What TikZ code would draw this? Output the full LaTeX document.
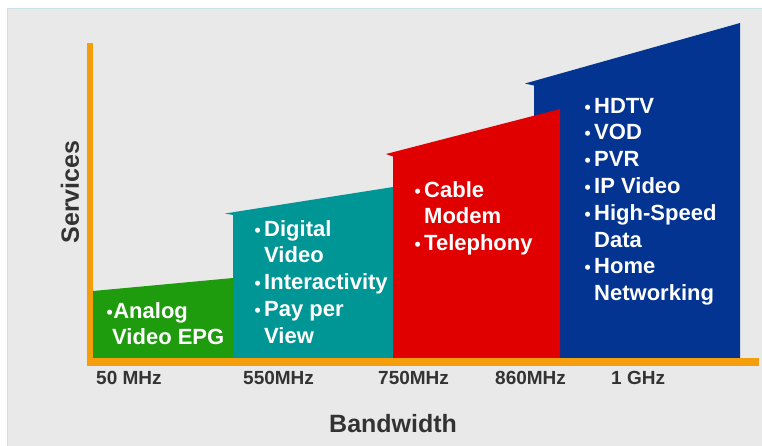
\documentclass[tikz,border=0pt]{standalone}
\usepackage{graphicx}
\usepackage{fontspec}
\setmainfont{Liberation Sans}
\definecolor{bggray}{RGB}{233,233,233}
\definecolor{bgedge}{RGB}{200,226,232}
\definecolor{axisorange}{RGB}{245,158,11}
\definecolor{bandgreen}{RGB}{31,155,14}
\definecolor{bandteal}{RGB}{0,150,150}
\definecolor{bandred}{RGB}{224,0,0}
\definecolor{bandblue}{RGB}{3,52,145}
\definecolor{labelgray}{RGB}{51,51,51}
% small bullet dot, bullet set in a fixed-width box, and the matching indent
\newcommand{\bdot}{\scalebox{0.8}{•}}
\newcommand{\bul}{\makebox[10pt][l]{\hspace*{0.5pt}\bdot}}
\newcommand{\ind}{\hspace*{10pt}}
\begin{document}
\begin{tikzpicture}[x=1pt,y=-1pt,
  svc/.style={text=white, font=\bfseries\fontsize{22}{26.8}\selectfont,
    align=left, anchor=base west, inner sep=0pt},
  ticklabel/.style={text=labelgray, font=\bfseries\fontsize{19}{22}\selectfont,
    anchor=base west, inner sep=0pt},
  axtitle/.style={text=labelgray, font=\bfseries\fontsize{25}{30}\selectfont,
    inner sep=0pt}]
\useasboundingbox (0,0) rectangle (762,445);
\fill[white] (0,0) rectangle (762,445);
\filldraw[fill=bggray, draw=bgedge, line width=0.8pt] (7,8) rectangle (765,448);

% service bands, from the widest (back) to the narrowest (front)
\fill[bandblue] (525,83.5) -- (740,23) -- (740,358) -- (534,358) -- (534,85.5) -- cycle;
\fill[bandred]  (386,154) -- (560,109) -- (560,358) -- (393,358) -- (393,156.5) -- cycle;
\fill[bandteal] (225,213.5) -- (393,187) -- (393,358) -- (233,358) -- (233,215) -- cycle;
\fill[bandgreen] (93,291) -- (233,278) -- (233,358) -- (93,358) -- cycle;

% axes
\fill[axisorange] (87,43) rectangle (93,366);
\fill[axisorange] (87,358) rectangle (759,366);

% band contents (each node is anchored on the baseline of its last line)
\node[svc] (analog) at (106,344.8) {\hspace*{0.5pt}\bdot\hspace*{0.5pt}Analog\\\hspace*{6pt}Video EPG};
\node[svc] (digital) at (254,343.2) {\bul Digital\\\ind Video\\\bul Interactivity\\\bul Pay per\\\ind View};
\node[svc] (cable) at (414,250.6) {\bul Cable\\\ind Modem\\\bul Telephony};
\node[svc] (hdtv) at (584,300.6) {\bul HDTV\\\bul VOD\\\bul PVR\\\bul IP Video\\\bul High-Speed\\\ind Data\\\bul Home\\\ind Networking};

% frequency marks
\node[ticklabel] (f50) at (96,384) {50 MHz};
\node[ticklabel] (f550) at (243,384) {550MHz};
\node[ticklabel] (f750) at (378,384) {750MHz};
\node[ticklabel] (f860) at (495,384) {860MHz};
\node[ticklabel] (f1g) at (611,384) {1 GHz};

% axis titles
\node[axtitle, anchor=base west] (bw) at (329,432) {Bandwidth};
\node[axtitle, rotate=90] (svcs) at (70,192) {Services};
\end{tikzpicture}
\end{document}
